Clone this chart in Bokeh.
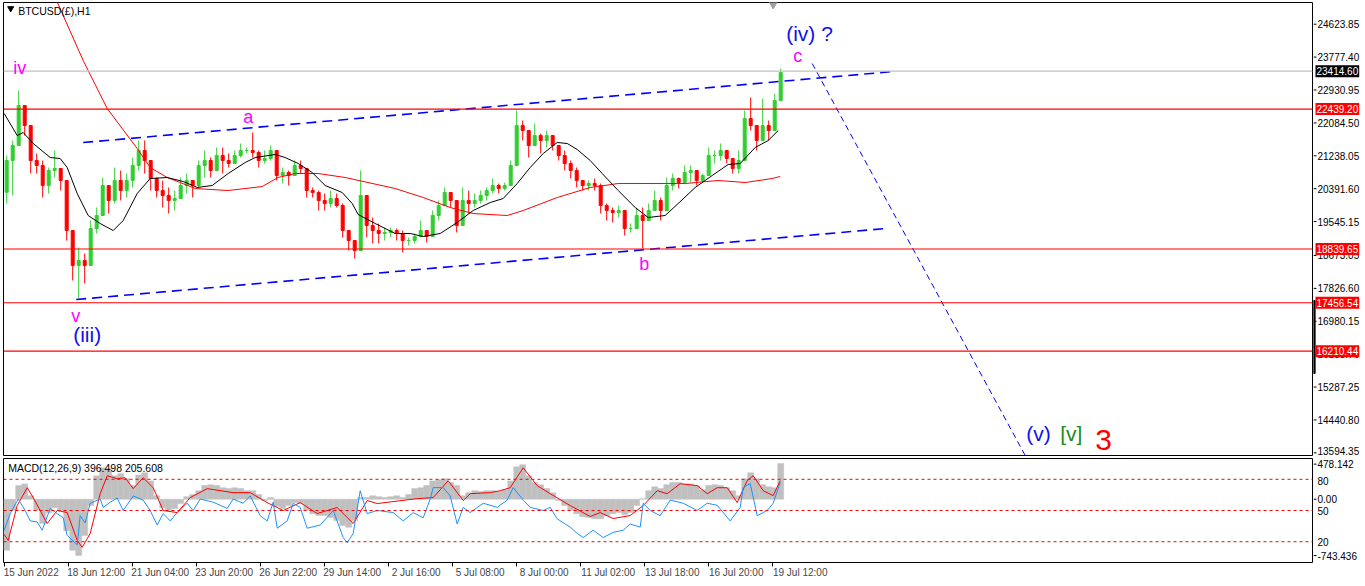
from bokeh.plotting import figure
from bokeh.models import (Range1d, LinearAxis, FixedTicker, Span, Label, ColumnDataSource)
from bokeh.layouts import column, row
from bokeh.embed import file_html
from bokeh.resources import INLINE

FONT = "Liberation Sans"

# ---------------- data (H1 bars grouped by 6) ----------------
first_open = 20300
close = [21116, 21502, 22531, 22017, 21116, 20988, 20473, 20859, 20910, 20602,
         19315, 18415, 18543, 18415, 19367, 19701, 20473, 20087, 20602, 20344,
         20602, 20988, 21374, 21116, 20653, 20344, 20216, 20087, 20138, 20473,
         20602, 20473, 20988, 21116, 20859, 21245, 21116, 21039, 21245, 21374,
         21374, 21322, 21116, 21168, 21374, 20730, 20807, 20730, 20988, 20910,
         20344, 20293, 20087, 20010, 20138, 19958, 19315, 19058, 18800, 20216,
         19444, 19315, 19238, 19264, 19315, 19238, 19058, 19058, 19161, 19315,
         19161, 19701, 19958, 20293, 20087, 19444, 20087, 20010, 20087, 20216,
         20344, 20473, 20396, 20473, 20988, 22017, 21888, 21502, 21759, 21631,
         21759, 21502, 21245, 21039, 20859, 20602, 20473, 20524, 20473, 19958,
         19830, 19778, 19830, 19367, 19367, 19701, 19572, 19830, 20087, 19830,
         20473, 20653, 20550, 20807, 20859, 20602, 20730, 21245, 21245, 21374,
         21168, 20910, 21116, 22197, 22017, 21631, 22017, 21888, 22660, 23380]
high = [21245, 21631, 22917, 22531, 21554, 21296, 21116, 20936, 21374, 20782,
        20602, 19315, 18878, 18723, 19572, 19907, 20679, 20422, 20936, 20859,
        20782, 21193, 21631, 21631, 20936, 20679, 20602, 20422, 20344, 20679,
        20782, 20602, 21116, 21374, 21193, 21451, 21451, 21296, 21374, 21554,
        21451, 21837, 21374, 21374, 21502, 21193, 20936, 20859, 21116, 21116,
        20859, 20422, 20344, 20267, 20344, 20267, 20010, 19238, 19058, 20859,
        19650, 19650, 19495, 19392, 19392, 19367, 19315, 19135, 19238, 19572,
        19238, 19830, 20087, 20422, 20267, 19907, 20422, 20344, 20267, 20344,
        20422, 20653, 20524, 20550, 21116, 22403, 22145, 21888, 22068, 21811,
        21888, 21708, 21374, 21374, 21116, 20936, 20602, 20602, 20653, 20524,
        20010, 19907, 19958, 19495, 19495, 19907, 19907, 20010, 20344, 20164,
        20679, 20782, 20679, 20988, 20988, 20679, 20782, 21451, 21374, 21554,
        21296, 21039, 21374, 22403, 22737, 21888, 22711, 22145, 22840, 23483]
low = [20010, 20216, 21888, 21759, 20782, 20782, 20164, 20267, 20679, 20344,
       19058, 18029, 17566, 17951, 18543, 19238, 19830, 19752, 20010, 20087,
       20164, 20422, 20859, 20782, 20344, 20164, 19907, 19752, 19830, 20164,
       20267, 20164, 20422, 20679, 20679, 20859, 20782, 20936, 21039, 21193,
       21296, 21193, 20936, 21039, 21116, 20602, 20524, 20473, 20782, 20782,
       20164, 20164, 19830, 19830, 19907, 19907, 19135, 18800, 18595, 18878,
       19135, 18981, 18981, 19058, 19135, 19058, 18749, 18929, 18981, 19135,
       19006, 19238, 19572, 20087, 19907, 19264, 19572, 19752, 19907, 20010,
       20087, 20267, 20267, 20344, 20679, 21374, 21631, 21193, 21554, 21296,
       21451, 21374, 21116, 20859, 20653, 20422, 20344, 20344, 20344, 19752,
       19572, 19521, 19650, 19186, 19264, 19392, 18852, 19572, 19830, 19572,
       20087, 20344, 20396, 20602, 20550, 20473, 20550, 21039, 21039, 21116,
       21039, 20782, 20782, 21811, 21888, 21374, 21631, 21631, 21965, 22995]

# moving averages (bar index, price)
ma_fast_idx = [0, 13, 19, 29, 46, 56, 63, 73, 84, 96, 109, 119, 133, 146, 163, 179, 193, 208,
               224, 241, 251, 271, 281, 294, 308, 321, 338, 348, 354, 371, 391, 406, 419, 436,
               453, 469, 486, 499, 513, 526, 539, 553, 563, 573, 586, 598, 614, 631, 644, 661,
               674, 691, 708, 724, 736, 751, 764, 774]
ma_fast_val = [22326, 21759, 21837, 21554, 21193, 21168, 20936, 20267, 19701, 19495, 19315, 19572,
               20267, 20653, 20679, 20576, 20422, 20473, 20782, 21065, 21193, 21271, 21193, 21039,
               20807, 20473, 20293, 20010, 19727, 19495, 19238, 19238, 19161, 19238, 19521, 19830,
               20035, 20138, 20524, 20936, 21296, 21580, 21554, 21400, 21116, 20782, 20344, 19907,
               19650, 19701, 20010, 20422, 20730, 21014, 21039, 21451, 21631, 21888]
ma_slow_idx = [51, 79, 84, 103, 133, 146, 163, 176, 191, 224, 258, 274, 291, 314, 341, 391, 419,
               446, 469, 503, 519, 553, 586, 614, 681, 714, 741, 768, 776]
ma_slow_val = [25310, 23689, 23432, 22454, 21425, 20936, 20679, 20550, 20396, 20344, 20447, 20679,
               20782, 20782, 20679, 20396, 20164, 19907, 19752, 19701, 19830, 20164, 20422, 20524,
               20524, 20602, 20550, 20653, 20705]

# horizontal levels
red_levels = [22439.20, 18839.65, 17456.54, 16210.44]
grey_level = 23414.60
price_ticks = [24623.85, 23777.40, 22930.95, 22084.50, 21238.05, 20391.60, 19545.15, 18673.05,
               17826.60, 16980.15, 16133.70, 15287.25, 14440.80, 13594.35]
scale_bar = [15636, 17514]

# trend channel (bar index, price)
upper_idx, upper_val = [79, 889], [21579, 23406]
lower_idx, lower_val = [72, 882], [17540, 19367]
target_idx, target_val = [808, 1021], [23612, 13526]

# MACD histogram (per group), signal and oscillator
macd_hist = [-600, -130, 160, 180, 40, -130, -285, -160, -100, -130,
             -370, -600, -660, -425, -75, 275, 370, 360, 275, 300,
             240, 160, 285, 310, 215, 40, -100, -130, -110, -50,
             30, 55, 100, 160, 170, 160, 135, 125, 135, 125,
             100, 100, 55, -15, 20, -85, -110, -75, -40, -50,
             -130, -170, -190, -190, -215, -250, -310, -330, -250, 20,
             20, 40, 30, 20, 30, 40, 20, 55, 125, 135,
             160, 215, 230, 240, 195, 160, 40, 75, 100, 90,
             100, 100, 90, 110, 215, 380, 405, 275, 195, 170,
             125, 75, -15, -75, -130, -170, -205, -215, -230, -230,
             -190, -170, -155, -180, -155, -75, 5, 100, 145, 125,
             170, 195, 195, 180, 180, 160, 110, 160, 170, 160,
             135, 100, 40, 240, 310, 240, 170, 145, 135, 420]
sig_idx = [0, 4, 13, 23, 29, 43, 53, 63, 73, 78, 86, 96, 103, 113, 121, 129, 139, 149, 159, 173,
           186, 203, 229, 246, 263, 279, 296, 313, 333, 349, 363, 373, 413, 429, 444, 459, 466,
           486, 496, 506, 519, 533, 546, 566, 586, 596, 609, 626, 639, 653, 663, 676, 693, 703,
           713, 723, 733, 743, 749, 759, 769, 776]
sig_val = [-413, -484, -75, 135, 19, -285, -133, -157, -484, -565, -402, 65, 276, 241, 252, 124,
           252, 135, -133, -157, 19, 124, 77, 77, -40, -133, -40, -168, -98, -285, -16, -51, 7, 19,
           217, -16, 65, 77, 100, 135, 369, 159, 65, -75, -203, -157, -227, -192, -75, 100, 65,
           182, 159, 65, 135, 135, -40, 217, 276, 100, 42, 217]
osc_idx = [0, 6, 14, 21, 26, 33, 38, 46, 53, 59, 63, 73, 76, 81, 86, 96, 99, 106, 113, 119, 129,
           139, 146, 153, 159, 166, 173, 183, 189, 196, 209, 223, 229, 239, 246, 256, 263, 269,
           273, 283, 289, 296, 303, 316, 329, 339, 343, 349, 356, 363, 373, 389, 399, 409, 419,
           426, 429, 439, 446, 453, 459, 466, 479, 493, 503, 509, 519, 526, 539, 546, 553, 566,
           573, 579, 589, 599, 609, 619, 626, 636, 639, 646, 656, 666, 679, 693, 703, 713, 726,
           736, 739, 746, 753, 759, 763, 769, 776]
osc_val = [31, 47, 61, 50, 40, 39, 31, 52, 47, 43, 26, 17, 45, 38, 57, 61, 53, 58, 62, 50, 64,
           60, 50, 36, 47, 40, 48, 57, 50, 61, 58, 52, 61, 57, 64, 45, 40, 58, 33, 40, 57, 53, 33,
           36, 50, 24, 19, 28, 69, 47, 50, 48, 40, 48, 43, 61, 72, 72, 64, 37, 53, 48, 57, 53, 60,
           72, 60, 53, 50, 53, 42, 34, 28, 24, 31, 24, 29, 31, 37, 34, 57, 50, 45, 60, 57, 50, 57,
           55, 40, 53, 72, 76, 45, 48, 50, 57, 77]
osc_levels = [80, 50, 20]
macd_ticks = [412, 214, 0, -141, -507, -662]
macd_labels = ["478.142", "80", "0.00", "50", "20", "-743.436"]
macd_tick_marks = [412, 0, -662]

x_tick_idx = [0, 64, 128, 192, 256, 320, 384, 448, 512, 576, 640, 704, 768]
x_tick_labels = ["15 Jun 2022", "18 Jun 12:00", "21 Jun 04:00", "23 Jun 20:00", "26 Jun 22:00",
                 "29 Jun 14:00", "2 Jul 16:00", "5 Jul 08:00", "8 Jul 00:00", "11 Jul 02:00",
                 "13 Jul 18:00", "16 Jul 20:00", "19 Jul 12:00"]

# ---------------- layout ----------------
W_MAIN = 1313
W_AX = 49
x_range = Range1d(-0.7, 1308.3)
y_main = Range1d(13526, 25182)
y_macd = Range1d(-743.436, 478.142)


def base_fig(w, h, xr, yr, top, bottom, left, right):
    f = figure(width=w, height=h, x_range=xr, y_range=yr, output_backend="svg",
               toolbar_location=None, min_border_left=left, min_border_right=right,
               min_border_top=top, min_border_bottom=bottom,
               x_axis_location=None, y_axis_location=None)
    f.grid.visible = False
    f.background_fill_color = "white"
    f.border_fill_color = "white"
    return f


p = base_fig(W_MAIN, 456, x_range, y_main, 2, 1, 3, 1)
p.outline_line_color = "black"

# levels
for lv in red_levels:
    p.add_layout(Span(location=lv, dimension="width", line_color="#ff0000", line_width=1.2))
p.add_layout(Span(location=grey_level, dimension="width", line_color="#c0c0c0", line_width=1.2))

# candles
n = len(close)
xs = [2.5 + 6 * k for k in range(n)]
opens = [first_open] + close[:-1]
hi = [max(h, o, c) for h, o, c in zip(high, opens, close)]
lo = [min(l, o, c) for l, o, c in zip(low, opens, close)]
cols = ["#32cd32" if c >= o else "#ff0000" for o, c in zip(opens, close)]
src = ColumnDataSource(dict(x=xs, o=opens, c=close, h=hi, l=lo, col=cols))
p.segment(x0="x", y0="l", x1="x", y1="h", line_color="col", line_width=1, source=src)
p.vbar(x="x", width=3.0, top="o", bottom="c", fill_color="col", line_color="col", source=src)

# MAs
p.line(ma_slow_idx, ma_slow_val, line_color="#ff0000", line_width=1)
p.line(ma_fast_idx, ma_fast_val, line_color="black", line_width=1)

# channel
p.line(upper_idx, upper_val, line_color="#0000ff", line_width=1.6, line_dash="10 6")
p.line(lower_idx, lower_val, line_color="#0000ff", line_width=1.6, line_dash="10 6")
p.line(target_idx, target_val, line_color="#0000ff", line_width=1, line_dash="6 4")

# title
p.scatter(x=[6.5], y=[25030], marker="inverted_triangle", size=6, color="black")
p.scatter(x=[769], y=[25150], marker="inverted_triangle", size=9, color="#a0a0a0")
p.add_layout(Label(x=14, y=24976, text="BTCUSD(£),H1", text_font=FONT, text_font_size="10.5px",
                   text_color="black", text_baseline="alphabetic"))


def wl(x, y, t, col, size):
    p.add_layout(Label(x=x, y=y, text=t, text_color=col, text_font=FONT, text_font_size=size,
                       text_baseline="alphabetic", text_align="left"))


wl(9, 23485, "iv", "#ff00ff", "18px")
wl(67, 17103, "v", "#ff00ff", "18px")
wl(69, 16650, "(iii)", "#1010ee", "21px")
wl(239, 22223, "a", "#ff00ff", "18px")
wl(635, 18441, "b", "#ff00ff", "18px")
wl(789, 23793, "c", "#ff00ff", "18px")
wl(782, 24384, "(iv) ?", "#1010ee", "21px")
wl(1022, 14092, "(v)", "#1010ee", "21px")
wl(1056, 14092, "[v]", "#1a8a1a", "21px")
wl(1091, 13930, "3", "#ff0000", "30px")

# ---- price scale panel ----
pa = base_fig(W_AX, 456, Range1d(0, W_AX), y_main, 2, 1, 0, 0)
pa.outline_line_color = None
pa.segment(x0=[0] * len(price_ticks), y0=price_ticks, x1=[3] * len(price_ticks), y1=price_ticks,
           line_color="black", line_width=1)
for i, t in enumerate(price_ticks):
    pa.add_layout(Label(x=4, y=t, text="%.2f" % t, text_font=FONT, text_font_size="10px",
                        text_color="black", text_baseline="middle",
                        y_offset=2 if i == len(price_ticks) - 1 else 0))
pa.quad(left=[0], right=[1.6], bottom=[scale_bar[0]], top=[scale_bar[1]], color="black")
for lv, bg in [(grey_level, "black")] + [(v, "#ff0000") for v in red_levels]:
    pa.add_layout(Label(x=2, y=lv, text="%.2f" % lv, text_color="white", text_font=FONT,
                        text_font_size="10px", text_baseline="middle", text_align="left",
                        background_fill_color=bg, padding=(1, 2)))

# ---------------- MACD panel ----------------
m = base_fig(W_MAIN, 128, x_range, y_macd, 2, 22, 3, 1)
m.outline_line_color = "black"
m.extra_y_ranges = {"osc": Range1d(0, 100)}

m.vbar(x=xs, width=6, top=macd_hist, bottom=0, fill_color="#c0c0c0", line_color="#c0c0c0",
       line_width=0.5)
for lv in osc_levels:
    m.add_layout(Span(location=lv, dimension="width", y_range_name="osc", line_color="#ff0000",
                      line_width=1, line_dash="3 3"))
m.line(sig_idx, sig_val, line_color="#ff0000", line_width=1)
m.line(osc_idx, osc_val, line_color="#1e90ff", line_width=1, y_range_name="osc")

m.add_layout(Label(x=4, y=372, text="MACD(12,26,9) 396.498 205.608", text_font=FONT,
                   text_font_size="10.5px", text_color="black", text_baseline="alphabetic"))

# x axis: minor ticks mark the bars, major (invisible) ticks carry the labels after them
shift = [27] + [28] * (len(x_tick_idx) - 1)
lab_pos = [t + s for t, s in zip(x_tick_idx, shift)]
axB = LinearAxis(ticker=FixedTicker(ticks=lab_pos, minor_ticks=x_tick_idx),
                 major_label_overrides=dict(zip(lab_pos, x_tick_labels)))
axB.major_label_text_font = FONT
axB.major_label_text_font_size = "10px"
axB.major_label_standoff = 0
axB.major_tick_out = 0
axB.major_tick_in = 0
axB.minor_tick_out = 4
axB.minor_tick_in = 0
axB.minor_tick_line_color = "black"
axB.axis_line_color = None
m.add_layout(axB, "below")

ma = base_fig(W_AX, 128, Range1d(0, W_AX), y_macd, 2, 22, 0, 0)
ma.outline_line_color = None
ma.segment(x0=[0] * len(macd_tick_marks), y0=macd_tick_marks, x1=[3] * len(macd_tick_marks),
           y1=macd_tick_marks, line_color="black", line_width=1)
for t, s in zip(macd_ticks, macd_labels):
    ma.add_layout(Label(x=4, y=t, text=s, text_font=FONT, text_font_size="10px",
                        text_color="black", text_baseline="middle"))

layout = column(row(p, pa, spacing=0), row(m, ma, spacing=0), spacing=0)
open("out.html", "w").write(file_html(layout, INLINE))
